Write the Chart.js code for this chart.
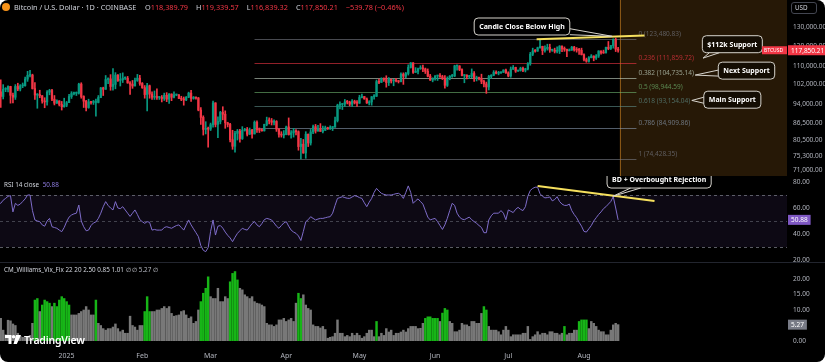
<!DOCTYPE html>
<html>
<head>
<meta charset="utf-8">
<script src="https://cdn.jsdelivr.net/npm/chart.js@4.4.1/dist/chart.umd.min.js"></script>
<style>
body { margin: 0; background: #ffffff; }
#wrap { position: relative; width: 825px; height: 362px; background: #000000; border-radius: 8px; overflow: hidden; font-family: "Noto Sans", sans-serif; }
canvas { position: absolute; left: 0; }
.txt { position: absolute; white-space: nowrap; font-size: 6.3px; line-height: 1; color: #d1d4dc; }
.head { font-size: 7.3px; }
.red { color: #f23645; }
.grp { margin-left: 8px; }
.grp:first-child { margin-left: 0; }
.sep { position: absolute; left: 0; width: 825px; height: 1px; background: #22252e; }
</style>
</head>
<body>
<div id="wrap">
  <canvas id="main" width="825" height="176" style="top:0px"></canvas>
  <canvas id="rsi" width="825" height="86" style="top:176px"></canvas>
  <canvas id="vix" width="825" height="100" style="top:262px"></canvas>
  <div class="sep" style="top:262px"></div>

  <div style="position:absolute;left:2px;top:3px;width:8px;height:8px;border-radius:50%;background:#f7931a"></div>
  <div class="txt head" style="left:14px;top:3.5px">Bitcoin / U.S. Dollar · 1D · COINBASE</div>
  <div class="txt head" id="ohlc" style="left:145px;top:3.5px"></div>
  <div class="txt" id="rsi_head" style="left:4px;top:182px"></div>
  <div class="txt" id="vix_head" style="left:4px;top:267px"></div>
  <div class="txt" style="left:791px;top:2px;padding:2px 8px 2px 3px;border:1px solid #434651;border-radius:3px;color:#d1d4dc">USD</div>

  <div style="position:absolute;left:5px;top:334px;height:11px;display:flex;align-items:center;gap:3px">
    <svg width="16" height="9" viewBox="0 0 16 9"><path d="M0 0h6.5v9h-3v-6h-3.5z" fill="#fff"/><circle cx="8.6" cy="1.8" r="1.8" fill="#fff"/><path d="M11 0h5l-4.2 9h-3.3z" fill="#fff"/></svg>
    <span style="color:#fff;font-weight:600;font-size:10.5px;letter-spacing:-0.2px">TradingView</span>
  </div>
</div>

<script>
// Bitcoin / U.S. Dollar, daily candles from Coinbase, 4 Dec 2024 - 15 Aug 2025
// prices are in thousands of USD, open of a day is the close of the day before
var start_date = Date.UTC(2024, 11, 4);
var open_first = 95.9;

var close = [
  98.8,96.9,99.9,99.9,101.1,97.4,96.6,101.1,100.0,101.4,101.4,104.3,106.0,106.1,100.2,97.5,97.7,97.2,95.1,94.7,98.7,99.4,95.8,94.2,95.1,93.7,92.8,93.4,
  94.4,96.9,98.1,98.2,98.3,102.1,96.9,95.0,92.5,94.7,94.5,94.5,94.5,96.5,100.5,99.9,104.1,104.4,101.1,102.0,106.1,103.7,104.0,104.7,104.7,102.6,102.1,101.3,103.7,104.7,102.4,
  100.6,97.7,101.4,97.9,96.6,96.6,96.5,96.5,96.1,97.4,95.8,97.9,96.6,97.5,97.6,96.1,95.8,95.5,96.6,98.3,96.1,96.6,96.3,91.5,88.7,84.3,84.7,84.4,
  86.0,94.3,86.1,87.2,90.6,89.9,86.7,86.1,80.7,78.5,82.9,83.7,81.1,84.0,84.3,82.6,84.1,82.7,86.9,84.2,84.0,83.8,86.1,87.5,87.4,86.9,87.2,84.4,82.6,82.3,82.5,
  85.2,82.5,83.1,83.8,83.5,78.4,79.2,76.3,82.6,79.6,83.4,85.3,83.7,84.5,83.6,84.0,84.9,84.5,85.0,85.1,87.5,93.4,93.7,93.9,94.7,94.6,93.8,95.0,94.3,94.2,
  96.5,96.9,95.9,94.3,94.7,96.8,97.0,103.2,102.9,104.6,104.1,102.8,104.2,103.5,103.7,103.5,103.2,106.5,105.6,106.8,109.6,111.7,107.3,107.8,109.0,109.4,108.9,107.8,105.6,103.9,104.6,
  105.7,105.8,105.4,104.7,101.6,104.4,105.6,105.7,110.3,110.3,108.6,105.9,106.1,105.4,105.6,106.8,104.6,104.9,104.6,103.3,102.2,100.9,105.5,106.0,107.3,106.9,107.1,107.4,108.4,107.1,
  105.7,108.8,109.6,107.9,108.2,109.2,108.3,108.9,111.3,115.9,117.5,117.4,119.1,119.8,117.7,118.7,119.3,117.9,117.9,117.3,117.4,119.9,118.6,118.3,117.6,117.9,119.4,118.0,117.9,117.8,115.7,
  113.3,112.5,114.2,115.0,114.1,115.0,117.5,116.7,116.5,119.3,118.7,120.2,123.3,118.4,117.85
];
var high = [
  99.0,104.0,101.9,100.6,101.4,101.2,98.3,101.9,102.5,101.9,102.6,105.2,107.8,108.3,106.5,102.8,98.1,99.5,97.3,96.4,99.4,99.9,99.9,97.3,95.5,95.2,94.9,96.2,
  94.9,97.8,98.9,98.7,98.8,102.5,102.7,97.2,95.3,95.8,94.9,95.3,95.8,97.3,100.7,100.8,105.9,104.9,106.3,109.1,107.2,106.3,106.8,107.1,105.3,105.5,103.2,103.7,104.8,106.4,106.0,
  102.8,101.5,102.5,101.7,98.8,99.2,100.1,96.9,97.3,98.3,98.5,98.1,98.0,98.8,97.9,97.7,97.0,96.7,96.9,98.7,99.5,96.9,96.7,96.5,92.5,89.3,87.1,85.1,
  86.6,95.0,94.4,88.9,91.0,92.8,91.2,86.9,86.5,84.0,83.6,84.3,84.3,85.3,84.7,85.0,84.8,84.3,87.4,87.4,84.8,84.5,86.2,88.8,88.5,88.3,87.8,87.5,84.6,83.5,83.9,
  85.5,88.5,83.9,84.7,84.2,83.8,81.2,80.8,83.5,82.7,84.3,85.9,86.1,85.8,86.4,85.5,85.5,85.1,85.6,85.3,88.8,93.8,94.7,94.0,95.7,95.3,95.0,95.6,95.4,95.2,
  97.4,97.9,96.9,96.3,95.2,96.9,97.7,103.9,104.3,104.9,104.9,105.8,105.0,104.3,104.2,104.6,103.7,107.1,107.1,107.3,110.8,111.9,111.8,109.5,109.3,110.4,110.7,109.3,108.9,106.4,104.9,
  105.9,105.9,106.8,106.0,105.9,105.3,105.9,106.4,110.6,110.4,110.4,108.9,106.2,106.2,106.0,108.9,107.7,105.6,105.2,106.5,103.9,103.0,106.0,106.3,108.1,108.0,107.8,107.6,108.5,108.8,
  107.6,109.8,110.5,109.7,108.4,109.7,109.8,109.2,111.9,116.8,118.9,118.2,119.4,123.1,119.9,120.1,120.9,120.9,118.3,118.9,119.6,120.2,120.1,119.5,118.4,118.5,119.8,119.8,119.2,118.8,118.9,
  116.1,114.0,114.7,115.7,115.1,115.7,117.6,117.6,117.9,119.4,122.3,120.3,123.7,124.1,119.34
];
var low = [
  94.7,92.5,95.9,98.9,98.8,94.2,94.3,95.7,99.3,99.2,100.6,101.2,103.3,105.3,100.0,95.7,92.2,96.4,94.2,92.4,93.4,97.6,95.2,93.5,94.1,93.1,91.5,92.6,
  92.8,94.4,96.1,97.5,97.3,97.9,96.2,92.5,91.2,92.2,93.8,93.7,89.2,94.3,96.4,97.3,99.9,102.3,99.5,99.5,100.1,103.3,101.3,102.8,104.1,102.5,97.8,100.3,101.3,103.3,101.6,
  100.3,96.2,91.2,96.2,95.7,95.7,95.7,95.7,94.7,95.3,94.8,94.1,95.2,96.3,97.2,96.0,95.2,93.4,95.2,96.4,94.9,95.8,95.8,91.2,86.1,82.3,82.7,78.2,
  83.9,85.1,85.2,81.4,86.3,87.8,84.7,85.2,80.0,77.5,76.6,80.6,79.9,80.8,83.7,82.0,82.5,81.2,82.7,83.2,83.2,83.7,83.7,85.6,86.3,85.9,85.9,83.6,81.6,81.6,81.3,
  82.4,82.3,81.2,81.6,82.4,77.2,74.4,76.2,74.6,78.4,78.9,82.8,83.0,83.7,83.6,83.1,83.9,84.3,84.3,83.9,85.1,87.0,91.9,91.7,92.9,93.9,93.1,92.9,93.9,92.9,
  94.1,96.3,95.8,94.1,93.5,93.4,95.8,96.9,102.3,102.8,103.3,100.8,101.5,102.6,101.4,103.1,102.6,103.1,102.0,104.9,106.1,109.3,106.8,107.3,106.6,108.7,107.6,106.8,105.3,103.7,103.1,
  103.8,103.7,105.0,104.1,100.4,101.1,104.0,105.1,105.4,108.3,108.1,105.7,102.7,104.4,104.5,104.9,103.3,103.5,103.9,102.3,100.9,98.2,99.6,104.6,105.8,106.6,106.2,106.8,107.2,106.8,
  105.3,105.1,108.6,107.3,107.8,107.9,107.6,107.5,108.4,110.6,115.2,116.9,117.3,118.9,115.7,116.9,117.9,116.8,117.3,116.5,116.5,116.2,117.2,117.3,114.7,117.5,117.8,117.4,116.9,115.8,115.5,
  112.7,112.0,112.1,114.1,112.7,113.4,114.3,115.9,116.3,116.5,118.1,118.2,118.9,117.2,116.84
];

// RSI 14 of the close, one value a day
var rsi = [
  63.6,63.6,66,67.4,69,69.5,57,63.6,62,63, 65,67,70,70,58,50.8,50,49.5,47,46,
  50,52,45.6,45,44.4,43,41.8,45,49.5,53, 54.6,55.5,56,62.3,50,45.6,42.5,43,46.5,48.5,
  49.3,52,56,61,64.9,62,60,58.5,64.9,60, 59.5,61,58.5,56,53.5,56,58.5,55,51,49.5,
  48.2,49.5,49,43,43.5,43,43,43,45,45.6, 45,44.4,45.5,46.5,47,45,43,47,50.8,47,
  44,41,38,31,27.5,26.4,29.5,42,50.8,39.2, 46,46.5,44.5,41.5,39,37,34.1,37.5,40.5,42.5,
  44.4,43.5,43,45.5,48,49.5,47,45.6,48,51, 52,51.5,50.8,48.5,46,44.4,46.5,48.5,49.5,46,
  43,41.5,40.5,38.5,35,42,49.5,51,53.3,52, 50.8,51.5,52,52,52.5,53,53.3,56,62,67.4,
  68,68.7,68,67.5,67.4,68.5,69.5,69,68,67.4, 64,61,64.5,67.4,72,75.1,73,71.3,70.5,70,
  70,70,70.5,71,71.3,70,67.4,72,77,72, 63.6,65.5,67,65,63,58,53,50.8,51.5,52,
  49.5,46.5,43.5,47,52,58,63.6,62,56,53, 51.5,51,52,53,51,49.5,48.2,46.5,45,41,
  41,50.8,54,56,56,56,58,56,51,58.5, 57.5,56.5,59,60.5,59,58,61,69,73.5,75.1,
  76,76,71,69,67.8,68,68.5,65.5,66.5,68.7, 65,63,62,62,63,58,55,52.5,49,46,
  42,41.5,44,46.5,50,52.5,55,57,59.5,61, 63,65,68.7,60,50.88
];

// CM Williams Vix Fix, one value a day
var vix = [
  7.0,7.3,3.5,2.0,6.7,6.5,5.5,5.0,2.5,1.5, 1.2,1.0,1.5,1.8,5.7,13.2,13.7,9.5,11.6,13.2,
  12.7,12.2,11.1,12.2,11.1,13.2,14.3,13.7,12.7,11.6, 8.4,8.4,8.4,8.9,9.5,10.0,11.1,10.0,8.4,8.4,
  13.2,5.7,5.0,4.0,3.5,4.0,4.0,4.5,5.5,4.0, 3.0,3.5,2.5,2.5,8.0,5.0,4.5,3.5,5.0,5.0,
  9.5,14.3,9.5,9.5,9.5,10.0,10.0,10.5,11.1,10.5, 11.1,8.9,8.0,8.2,8.4,9.5,9.8,8.4,7.3,7.8,
  5.7,6.3,10.0,12.7,15.4,17.0,20.7,14.3,13.7,13.7, 17.0,12.7,12.7,14.3,13.7,19.1,21.8,22.4,19.7,17.0,
  16.5,14.9,14.3,13.7,14.3,12.7,12.2,12.0,11.6,11.1, 5.7,5.2,5.2,4.7,5.2,6.8,6.8,7.3,6.3,6.8,
  7.3,6.3,12.2,15.4,13.7,14.9,11.6,10.5,10.0,5.2, 4.7,4.7,4.2,4.7,3.7,0.9,1.2,1.4,2.5,6.8,
  2.5,2.5,1.4,1.8,1.4,2.5,1.8,2.5,1.8,0.9, 1.4,2.5,3.5,3.5,1.4,6.3,1.4,2.5,1.8,4.0,
  2.9,3.5,1.8,2.5,2.5,2.9,3.5,2.9,4.0,4.7, 4.7,4.7,4.0,4.1,5.7,7.3,7.8,7.8,7.3,7.3,
  7.3,6.3,9.0,10.5,10.0,6.3,5.7,3.0,3.0,3.5, 5.7,5.2,5.2,4.7,6.3,6.3,5.7,5.7,8.9,11.1,
  10.0,4.7,3.5,3.5,3.5,3.0,2.0,3.5,4.7,3.5, 1.4,2.0,2.0,2.0,2.0,2.5,2.5,4.7,0.5,1.4,
  2.0,3.0,2.0,2.5,2.5,2.0,3.0,3.0,2.5,2.5, 2.0,2.5,4.7,2.0,2.5,2.5,3.5,3.5,6.3,6.8,
  6.8,6.8,4.0,6.3,5.7,4.7,3.5,3.0,3.0,2.0, 2.0,3.5,5.2,5.7,5.27
];
// days where the Vix Fix bar is above its upper band (drawn green)
var vix_green = [15,16,18,19,20,21,23,24,25,26,27,28,29,40,60,61,62,83,84,85,86,95,96,97,98,123,124,155,
  175,176,177,178,179,180,182,183,184,199,200,232,238,239,240,241];

var month_labels = ["2025", "Feb", "Mar", "Apr", "May", "Jun", "Jul", "Aug"];
var month_dates = ["2025-01-01", "2025-02-01", "2025-03-01", "2025-04-01", "2025-05-01", "2025-06-01", "2025-07-01", "2025-08-01"];

var price_ticks = [71, 75.3, 80.5, 86.5, 94, 102, 110, 120, 130];
var rsi_ticks = [20, 40, 60, 80];
var vix_ticks = [0, 5, 10, 15, 20];

var fib_levels = ["0", "0.236", "0.382", "0.5", "0.618", "0.786", "1"];
var fib_prices = [123480.83, 111859.72, 104735.14, 98944.59, 93154.04, 84909.86, 74428.35];
var fib_colors = ["#787b86", "#f23645", "#c8d8c8", "#6fb56f", "#5f8f8a", "#8a9bb0", "#787b86"];
var fib_days = [105, 261.5];
var zone_from_day = 254.6;

var last_ohlc = [118389.79, 119339.57, 116839.32, 117850.21];
var last_change = "\u2212539.78 (\u22120.46%)";
var rsi_last = 50.88;
var vix_last = 5.27;

// drawings: [day, value] pairs
var trend_price = [[220.6, 123.5], [264.8, 125.4]];
var trend_rsi = [[221, 76.9], [268.9, 65.4]];
var price_notes = [
  {text: "Candle Close Below High", box: [214.6, 130.3], tip: [251.6, 125.0]},
  {text: "$112k Support", box: [300.8, 120.9], tip: [288.8, 114.0]},
  {text: "Next Support", box: [306.6, 108.1], tip: [285.6, 106.1]},
  {text: "Main Support", box: [300.8, 95.6], tip: [284.2, 95.3]}
];
var rsi_notes = [
  {text: "BD + Overbought Rejection", box: [270.8, 81.9], tip: [251.8, 69]}
];

var up_color = "#089981";
var down_color = "#f23645";
var x_min = 0.7;
var x_max = 323.2;
var font_family = "Noto Sans";

function day_of(date_text) {
  var p = date_text.split("-");
  return (Date.UTC(+p[0], +p[1] - 1, +p[2]) - start_date) / 86400000;
}

function money(v) {
  return v.toLocaleString("en-US", {minimumFractionDigits: 2, maximumFractionDigits: 2});
}

function right_axis(ticks, fmt) {
  return {
    position: "right",
    afterBuildTicks: function (s) {
      s.ticks = ticks.map(function (v) { return {value: v}; });
    },
    afterFit: function (s) {
      s.width = 38;
      s.paddingTop = 0;
      s.paddingBottom = 0;
    },
    ticks: {color: "#b2b5be", font: {family: font_family, size: 6.5}, padding: 6, crossAlign: "near", autoSkip: false, callback: fmt},
    grid: {display: false, drawTicks: false},
    border: {display: false}
  };
}

function hidden_x() {
  return {type: "linear", min: x_min, max: x_max, offset: false, display: false};
}

function base_options() {
  return {
    responsive: false,
    animation: false,
    events: [],
    layout: {padding: 0, autoPadding: false},
    plugins: {legend: {display: false}, tooltip: {enabled: false}}
  };
}

function draw_note(chart, note) {
  var c = chart.ctx;
  var xs = chart.scales.x, ys = chart.scales.y;
  var cx = xs.getPixelForValue(note.box[0]), cy = ys.getPixelForValue(note.box[1]);
  var tx = xs.getPixelForValue(note.tip[0]), ty = ys.getPixelForValue(note.tip[1]);
  c.save();
  c.font = "bold 7px '" + font_family + "'";
  var w = c.measureText(note.text).width + 10, h = 17;
  var dx = tx - cx, dy = ty - cy;
  var sx = (w / 2) / Math.max(Math.abs(dx), 0.001);
  var sy = (h / 2) / Math.max(Math.abs(dy), 0.001);
  var s = Math.min(sx, sy);
  var ex = cx + dx * s, ey = cy + dy * s;
  var b1, b2;
  if (sx < sy) {
    b1 = [ex, ey - 3]; b2 = [ex, ey + 3];
  } else {
    b1 = [ex - 5, ey]; b2 = [ex + 5, ey];
  }
  c.strokeStyle = "#d6d3cc";
  c.lineWidth = 1;
  c.beginPath();
  c.moveTo(b1[0], b1[1]);
  c.lineTo(tx, ty);
  c.lineTo(b2[0], b2[1]);
  c.stroke();
  c.beginPath();
  c.roundRect(cx - w / 2, cy - h / 2, w, h, 4);
  c.fillStyle = "rgba(0, 0, 0, 0.45)";
  c.fill();
  c.stroke();
  c.fillStyle = "#ffffff";
  c.textAlign = "center";
  c.textBaseline = "middle";
  c.fillText(note.text, cx, cy + 0.5);
  c.restore();
}

function draw_trend(chart, pts) {
  var c = chart.ctx;
  var xs = chart.scales.x, ys = chart.scales.y;
  c.save();
  c.strokeStyle = "#f6e05e";
  c.lineWidth = 2;
  c.beginPath();
  c.moveTo(xs.getPixelForValue(pts[0][0]), ys.getPixelForValue(pts[0][1]));
  c.lineTo(xs.getPixelForValue(pts[1][0]), ys.getPixelForValue(pts[1][1]));
  c.stroke();
  c.restore();
}

function axis_label(chart, value, text, bg, fg, wide) {
  var c = chart.ctx, a = chart.chartArea;
  var y = chart.scales.y.getPixelForValue(value);
  c.save();
  c.font = "6.5px '" + font_family + "'";
  var w = wide ? chart.width - a.right - 1 : c.measureText(text).width + 6;
  c.fillStyle = bg;
  c.fillRect(a.right + 1, y - 5, w, 10);
  c.fillStyle = fg;
  c.textBaseline = "middle";
  c.fillText(text, a.right + 4, y + 0.5);
  c.restore();
  return y;
}

// ---- price pane ----
var wicks = [], bodies = [], candle_colors = [];
for (var i = 0; i < close.length; i++) {
  var o = i === 0 ? open_first : close[i - 1];
  wicks.push({x: i, y: [low[i], high[i]]});
  bodies.push({x: i, y: [o, close[i]]});
  candle_colors.push(close[i] >= o ? up_color : down_color);
}

var main_overlay = {
  id: "main_overlay",
  beforeDatasetsDraw: function (chart) {
    var c = chart.ctx, a = chart.chartArea;
    var xs = chart.scales.x, ys = chart.scales.y;
    var zx = xs.getPixelForValue(zone_from_day);
    c.save();
    c.fillStyle = "rgba(255, 160, 40, 0.15)";
    c.fillRect(zx, a.top, a.right - zx, a.bottom - a.top);
    c.strokeStyle = "rgba(255, 160, 40, 0.45)";
    c.lineWidth = 1;
    c.beginPath();
    c.moveTo(Math.round(zx) + 0.5, a.top);
    c.lineTo(Math.round(zx) + 0.5, a.bottom);
    c.stroke();

    var x1 = xs.getPixelForValue(fib_days[0]), x2 = xs.getPixelForValue(fib_days[1]);
    c.font = "6.5px '" + font_family + "'";
    c.textBaseline = "bottom";
    for (var k = 0; k < fib_levels.length; k++) {
      var y = Math.round(ys.getPixelForValue(fib_prices[k] / 1000)) + 0.5;
      c.globalAlpha = 0.6;
      c.strokeStyle = fib_colors[k];
      c.beginPath();
      c.moveTo(x1, y);
      c.lineTo(x2, y);
      c.stroke();
      c.globalAlpha = 0.7;
      c.fillStyle = fib_colors[k];
      c.fillText(fib_levels[k] + " (" + money(fib_prices[k]) + ")", x2 + 2, y - 2);
    }
    c.restore();
  },
  afterDatasetsDraw: function (chart) {
    draw_trend(chart, trend_price);
    price_notes.forEach(function (n) { draw_note(chart, n); });
  },
  afterDraw: function (chart) {
    var c = chart.ctx, a = chart.chartArea;
    var y = axis_label(chart, last_ohlc[3] / 1000, money(last_ohlc[3]), "#f23645", "#ffffff", true);
    c.save();
    c.fillStyle = "#f23645";
    c.fillRect(a.right - 25, y - 4, 25, 8);
    c.fillStyle = "#ffffff";
    c.font = "5px '" + font_family + "'";
    c.textBaseline = "middle";
    c.fillText("BTCUSD", a.right - 23, y + 0.5);
    c.restore();
  }
};

var main_opts = base_options();
main_opts.scales = {
  x: hidden_x(),
  y: Object.assign(right_axis(price_ticks, function (v) { return money(v * 1000); }), {
    type: "logarithmic", min: 69.22, max: 145.77
  })
};
new Chart(document.getElementById("main"), {
  type: "bar",
  data: {
    datasets: [
      {data: wicks, backgroundColor: candle_colors, barThickness: 1, grouped: false, order: 1},
      {data: bodies, backgroundColor: candle_colors, barThickness: 1.6, minBarLength: 1, grouped: false, order: 0}
    ]
  },
  options: main_opts,
  plugins: [main_overlay]
});

// ---- RSI pane ----
var rsi_points = rsi.map(function (v, i) { return {x: i, y: v}; });
var rsi_overlay = {
  id: "rsi_overlay",
  beforeDatasetsDraw: function (chart) {
    var c = chart.ctx, a = chart.chartArea, ys = chart.scales.y;
    var y70 = ys.getPixelForValue(70), y50 = ys.getPixelForValue(50), y30 = ys.getPixelForValue(30);
    c.save();
    c.fillStyle = "rgba(126, 87, 194, 0.1)";
    c.fillRect(a.left, y70, a.right - a.left, y30 - y70);
    c.setLineDash([3, 3]);
    c.lineWidth = 1;
    [[y70, 0.75], [y50, 0.5], [y30, 0.75]].forEach(function (l) {
      c.strokeStyle = "rgba(120, 123, 134, " + l[1] + ")";
      c.beginPath();
      c.moveTo(a.left, Math.round(l[0]) + 0.5);
      c.lineTo(a.right, Math.round(l[0]) + 0.5);
      c.stroke();
    });
    c.restore();
  },
  afterDatasetsDraw: function (chart) {
    draw_trend(chart, trend_rsi);
    rsi_notes.forEach(function (n) { draw_note(chart, n); });
  },
  afterDraw: function (chart) {
    axis_label(chart, rsi_last, rsi_last.toFixed(2), "#7e57c2", "#ffffff", false);
  }
};
var rsi_opts = base_options();
rsi_opts.scales = {
  x: hidden_x(),
  y: Object.assign(right_axis(rsi_ticks, function (v) { return v.toFixed(2); }), {type: "linear", min: 18.46, max: 84.62})
};
new Chart(document.getElementById("rsi"), {
  type: "line",
  data: {datasets: [{data: rsi_points, borderColor: "#7e6cc9", borderWidth: 1, pointRadius: 0, tension: 0}]},
  options: rsi_opts,
  plugins: [rsi_overlay]
});

// ---- Williams Vix Fix pane ----
var vix_points = vix.map(function (v, i) { return {x: i, y: v}; });
var vix_colors = vix.map(function (v, i) { return vix_green.indexOf(i) >= 0 ? "#17b517" : "#787878"; });
var month_days = month_dates.map(day_of);

var vix_opts = base_options();
vix_opts.scales = {
  x: {
    type: "linear", min: x_min, max: x_max, offset: false, position: "bottom",
    afterBuildTicks: function (s) {
      s.ticks = month_days.map(function (d) { return {value: d}; });
    },
    afterFit: function (s) {
      s.height = 21;
      s.paddingLeft = 0;
      s.paddingRight = 0;
    },
    ticks: {
      color: "#b2b5be", font: {family: font_family, size: 7}, padding: 11, maxRotation: 0, autoSkip: false,
      callback: function (v, idx) { return month_labels[idx]; }
    },
    grid: {display: false, drawTicks: false},
    border: {display: false}
  },
  y: Object.assign(right_axis(vix_ticks, function (v) { return v.toFixed(2); }), {type: "linear", min: 0, max: 25.48})
};
new Chart(document.getElementById("vix"), {
  type: "bar",
  data: {datasets: [{data: vix_points, backgroundColor: vix_colors, barThickness: 1.8, grouped: false}]},
  options: vix_opts,
  plugins: [{
    id: "vix_label",
    afterDraw: function (chart) {
      axis_label(chart, vix_last, vix_last.toFixed(2), "#787b86", "#ffffff", false);
    }
  }]
});

// ---- pane headers ----
var names = ["O", "H", "L", "C"];
var head = "";
for (var k = 0; k < 4; k++) {
  head += '<span class="grp">' + names[k] + '<span class="red">' + money(last_ohlc[k]) + "</span></span>";
}
head += '<span class="grp red">' + last_change + "</span>";
document.getElementById("ohlc").innerHTML = head;
document.getElementById("rsi_head").innerHTML = 'RSI 14 close <span style="color:#8e7ce0;margin-left:2px">' + rsi_last.toFixed(2) + "</span>";
document.getElementById("vix_head").innerHTML = "CM_Williams_Vix_Fix 22 20 2.50 0.85 1.01 \u2205 \u2205 " +
  '<span style="color:#b2b5be">' + vix_last.toFixed(2) + "</span> \u2205";
</script>
</body>
</html>
